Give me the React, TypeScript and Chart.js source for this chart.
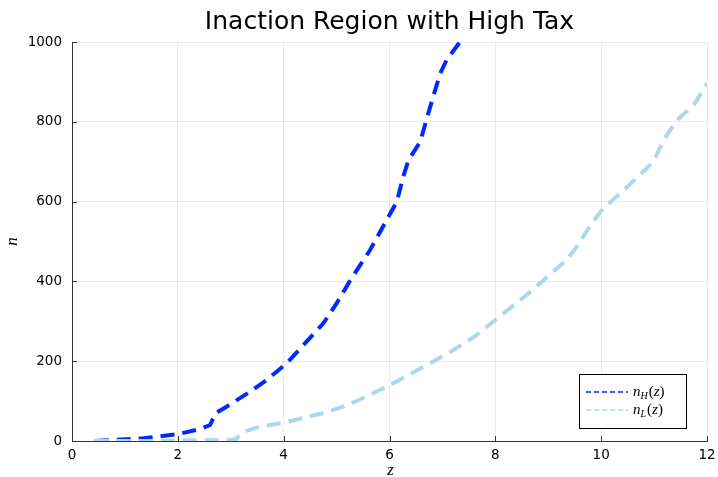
import React, { useEffect, useRef } from "react";
import { Chart, registerables } from "chart.js";

Chart.register(...registerables);

const TITLE = "Inaction Region with High Tax";
const X_LABEL = "z";
const Y_LABEL = "n";

const zH = [0.43, 1.35, 2.0, 2.42, 2.61, 2.71, 2.92, 3.37, 3.68, 4.06, 4.37, 4.75, 5.0, 5.26, 5.63, 5.98, 6.14, 6.26, 6.36, 6.58, 6.77, 6.96, 7.08, 7.33];
const nH = [0, 7, 17, 30, 40, 69, 86, 124, 153, 195, 240, 295, 345, 403, 478, 562, 600, 663, 704, 750, 838, 922, 955, 1000];

const zL = [0.43, 1.5, 2.5, 2.95, 3.1, 3.24, 3.55, 4.0, 4.81, 5.26, 6.01, 6.77, 7.21, 7.59, 7.96, 8.59, 8.91, 9.35, 9.54, 9.82, 10.04, 10.36, 10.7, 10.99, 11.18, 11.43, 11.75, 12.0];
const nL = [0, 0, 2, 2, 5, 23, 36, 46, 72, 93, 140, 195, 228, 260, 299, 366, 403, 454, 487, 545, 583, 621, 663, 700, 754, 804, 842, 896];

const X_TICKS = [0, 2, 4, 6, 8, 10, 12];
const Y_TICKS = [0, 200, 400, 600, 800, 1000];

const BLUE = "rgb(0, 40, 255)";
const LIGHT = "rgb(173, 216, 230)";

const decorPlugin = {
  id: "decor",
  afterDraw(chart: any) {
    const ctx = chart.ctx as CanvasRenderingContext2D;
    const ca = chart.chartArea;
    const xs = chart.scales.x;
    const ys = chart.scales.y;
    ctx.save();
    ctx.strokeStyle = "#333";
    ctx.lineWidth = 1;
    ctx.setLineDash([]);
    X_TICKS.forEach((t) => {
      const px = Math.round(xs.getPixelForValue(t)) + 0.5;
      ctx.beginPath();
      ctx.moveTo(px, ca.bottom);
      ctx.lineTo(px, ca.bottom - 5);
      ctx.stroke();
    });
    Y_TICKS.forEach((t) => {
      const py = Math.round(ys.getPixelForValue(t)) + 0.5;
      ctx.beginPath();
      ctx.moveTo(ca.left, py);
      ctx.lineTo(ca.left + 5, py);
      ctx.stroke();
    });
    ctx.fillStyle = "#000";
    ctx.font = "25px 'DejaVu Sans'";
    ctx.textAlign = "center";
    ctx.textBaseline = "alphabetic";
    ctx.fillText(TITLE, (ca.left + ca.right) / 2, 29);
    ctx.font = "italic 17px 'Liberation Serif'";
    ctx.fillText(X_LABEL, (ca.left + ca.right) / 2 + 1, 475);
    ctx.save();
    ctx.translate(17, (ca.top + ca.bottom) / 2);
    ctx.rotate(-Math.PI / 2);
    ctx.fillText(Y_LABEL, 0, 0);
    ctx.restore();
    const bx = 579.5, by = 374.5, bw = 107, bh = 54;
    ctx.fillStyle = "#fff";
    ctx.fillRect(bx, by, bw, bh);
    ctx.strokeStyle = "#000";
    ctx.lineWidth = 1;
    ctx.strokeRect(bx, by, bw, bh);
    const items = [
      { color: BLUE, sub: "H", y: 392 },
      { color: LIGHT, sub: "L", y: 410 },
    ];
    items.forEach((it) => {
      ctx.strokeStyle = it.color;
      ctx.lineWidth = 1.5;
      ctx.setLineDash([5, 3]);
      ctx.beginPath();
      ctx.moveTo(586, it.y);
      ctx.lineTo(628, it.y);
      ctx.stroke();
      ctx.setLineDash([]);
      ctx.fillStyle = "#000";
      ctx.textAlign = "left";
      ctx.textBaseline = "alphabetic";
      let x = 633;
      ctx.font = "italic 15px 'Liberation Serif'";
      ctx.fillText("n", x, it.y + 4);
      x += ctx.measureText("n").width;
      ctx.font = "italic 10px 'Liberation Serif'";
      ctx.fillText(it.sub, x, it.y + 7);
      x += ctx.measureText(it.sub).width + 1;
      ctx.font = "15px 'Liberation Serif'";
      ctx.fillText("(", x, it.y + 4);
      x += ctx.measureText("(").width;
      ctx.font = "italic 15px 'Liberation Serif'";
      ctx.fillText("z", x, it.y + 4);
      x += ctx.measureText("z").width;
      ctx.font = "15px 'Liberation Serif'";
      ctx.fillText(")", x, it.y + 4);
    });
    ctx.restore();
  },
};

export default function App() {
  const ref = useRef<HTMLCanvasElement | null>(null);
  useEffect(() => {
    document.body.style.margin = "0";
    const canvas = ref.current;
    if (!canvas) return;
    const chart = new Chart(canvas, {
      type: "line",
      data: {
        datasets: [
          {
            label: "n_H(z)",
            data: zH.map((z, i) => ({ x: z, y: nH[i] })),
            borderColor: BLUE,
            borderWidth: 4,
            borderDash: [14, 8],
            pointRadius: 0,
            fill: false,
            tension: 0,
            order: 1,
          },
          {
            label: "n_L(z)",
            data: zL.map((z, i) => ({ x: z, y: nL[i] })),
            borderColor: LIGHT,
            borderWidth: 4,
            borderDash: [14, 8],
            pointRadius: 0,
            fill: false,
            tension: 0,
            order: 0,
          },
        ],
      },
      options: {
        responsive: false,
        animation: false,
        layout: { padding: { top: 42, right: 11, left: 0, bottom: 0 } },
        plugins: {
          legend: { display: false },
          title: { display: false },
          tooltip: { enabled: false },
        },
        scales: {
          x: {
            type: "linear",
            min: 0,
            max: 12,
            afterFit: (s: any) => {
              s.height = 36;
              s.paddingLeft = 0;
              s.paddingRight = 0;
            },
            afterBuildTicks: (s: any) => {
              s.ticks = X_TICKS.map((v) => ({ value: v }));
            },
            ticks: {
              color: "#000",
              font: { family: "'DejaVu Sans'", size: 13.5 },
              padding: 6,
              maxRotation: 0,
              callback: (v: any) => String(v),
            },
            grid: {
              color: "rgba(0,0,0,0.08)",
              lineWidth: 1,
              drawTicks: false,
            },
            border: { display: true, color: "#333", width: 1 },
          },
          y: {
            type: "linear",
            min: 0,
            max: 1000,
            afterFit: (s: any) => {
              s.width = 72;
              s.paddingTop = 0;
              s.paddingBottom = 0;
            },
            afterBuildTicks: (s: any) => {
              s.ticks = Y_TICKS.map((v) => ({ value: v }));
            },
            ticks: {
              color: "#000",
              font: { family: "'DejaVu Sans'", size: 13.5 },
              padding: 10,
              callback: (v: any) => String(v),
            },
            grid: {
              color: "rgba(0,0,0,0.08)",
              lineWidth: 1,
              drawTicks: false,
            },
            border: { display: true, color: "#333", width: 1 },
          },
        },
      },
      plugins: [decorPlugin],
    });
    return () => chart.destroy();
  }, []);
  return <canvas ref={ref} width={718} height={477} style={{ display: "block" }} />;
}
